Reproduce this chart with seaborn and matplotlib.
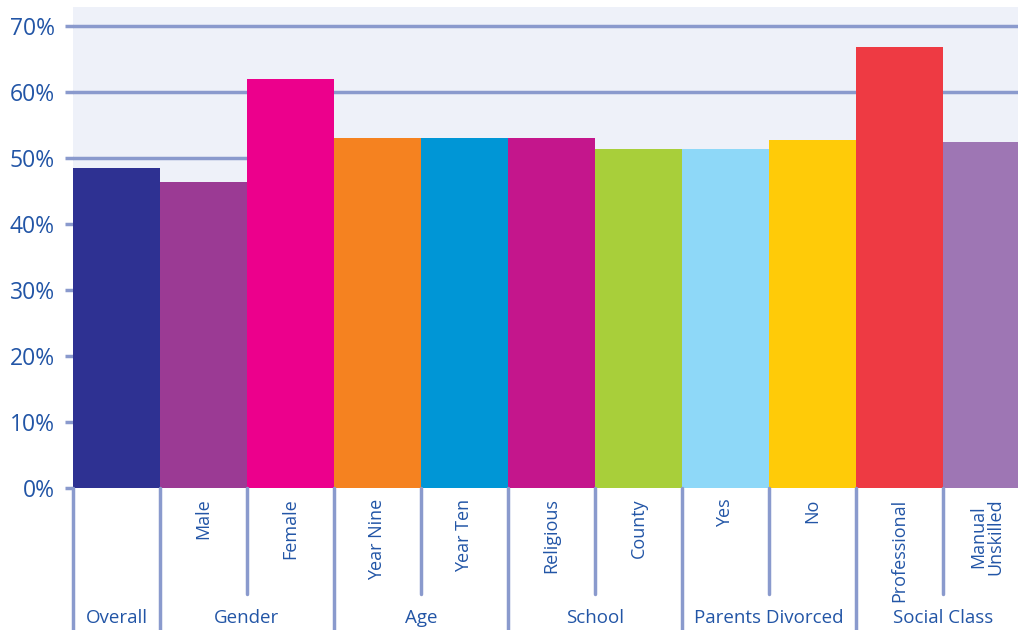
import matplotlib
matplotlib.use('Agg')
import matplotlib.pyplot as plt
import matplotlib.transforms as mtransforms
import pandas as pd
import seaborn as sns

# ----------------------------- data ------------------------------------------
CATEGORIES = ['Overall', 'Male', 'Female', 'Year Nine', 'Year Ten',
              'Religious', 'County', 'Yes', 'No', 'Professional',
              'Manual\nUnskilled']
VALUES = [48.5, 46.4, 62.0, 53.0, 53.0, 53.0, 51.4, 51.4, 52.7, 66.8, 52.4]
COLORS = ['#2E3192', '#9B3A94', '#EC008C', '#F58220', '#0096D6', '#C4168C',
          '#A8CF3A', '#8ED8F8', '#FFCB08', '#EE3A43', '#9E76B4']
SUB_LABELS = ['', 'Male', 'Female', 'Year Nine', 'Year Ten', 'Religious',
              'County', 'Yes', 'No', 'Professional', 'Manual\nUnskilled']
GROUPS = ['Overall', 'Gender', 'Age', 'School', 'Parents Divorced',
          'Social Class']
GROUP_SIZES = [1, 2, 2, 2, 2, 2]
Y_TICKS = [0, 10, 20, 30, 40, 50, 60, 70]

LINE_COLOR = '#8A9ACD'
TEXT_COLOR = '#2255A6'

# -----------------------------------------------------------------------------

sns.set_style('white', {'axes.facecolor': '#EEF1F9'})
plt.rcParams['font.family'] = ['Open Sans', 'DejaVu Sans']

df = pd.DataFrame({'cat': CATEGORIES, 'val': VALUES})

fig = plt.figure(figsize=(10.18, 6.3), dpi=100)
ax = fig.add_axes([73 / 1018, (630 - 488) / 630, 1 - 73 / 1018, 481 / 630])

sns.barplot(data=df, x='cat', y='val', hue='cat', palette=COLORS,
            width=1.0, saturation=1, legend=False, ax=ax, zorder=2,
            linewidth=0, edgecolor='none')

ax.set_axisbelow(True)
ax.set_ylim(0, 72.9)
ax.set_xlim(-0.5, -0.5 + (1018 - 73) / 87)
ax.set_yticks(Y_TICKS)
ax.set_yticklabels(['%d%%' % t for t in Y_TICKS], color=TEXT_COLOR,
                   fontsize=16.5)
ax.yaxis.grid(True, color=LINE_COLOR, lw=2.5)
ax.tick_params(axis='y', length=6, width=2.5, color=LINE_COLOR, pad=7,
               left=True)
ax.set_xticks([])
ax.set_xlabel('')
ax.set_ylabel('')
for s in ax.spines.values():
    s.set_visible(False)

# ---------------- category annotation beneath the axis ----------------------
trans = mtransforms.blended_transform_factory(ax.transData, ax.transAxes)

for i, lab in enumerate(SUB_LABELS):
    if lab:
        ax.text(i, -0.022, lab, rotation=90, ha='center', va='top',
                color=TEXT_COLOR, fontsize=13, transform=trans,
                linespacing=0.95)

start = 0
for g, n in zip(GROUPS, GROUP_SIZES):
    # group boundary line down to the bottom
    ax.plot([start - 0.5, start - 0.5], [0, -0.3], transform=trans,
            color=LINE_COLOR, lw=2.5, clip_on=False)
    # internal boundaries are shorter
    for k in range(1, n):
        ax.plot([start + k - 0.5, start + k - 0.5], [0, -0.22],
                transform=trans, color=LINE_COLOR, lw=2.5, clip_on=False)
    ax.text(start + (n - 1) / 2, -0.27, g, ha='center', va='center',
            color=TEXT_COLOR, fontsize=13.5, transform=trans)
    start += n

fig.savefig('out.png', dpi=100)
